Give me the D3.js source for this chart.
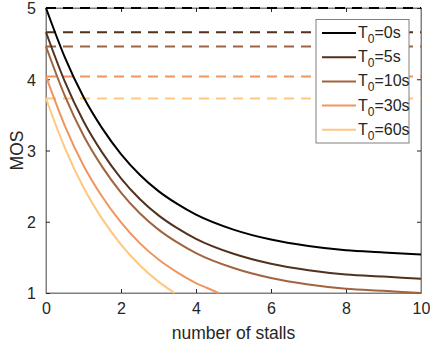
<!DOCTYPE html>
<html>
<head>
<meta charset="utf-8">
<script src="https://cdn.jsdelivr.net/npm/d3@7"></script>
<style>
  body { margin: 0; background: #fff; }
  svg { display: block; font-family: "Liberation Sans", Arial, sans-serif; }
</style>
</head>
<body>
<div id="chart"></div>
<script>
// values
var labels = ['0s', '5s', '10s', '30s', '60s'];
var colors = ['#000000', '#50321f', '#a0643f', '#ef955f', '#ffc77f'];

var stalls = [0, 0.5, 1, 1.5, 2, 2.5, 3, 3.5, 4, 5, 6, 7, 8, 9, 10];
var mosT0 = [5.00, 4.31, 3.75, 3.31, 2.95, 2.66, 2.43, 2.25, 2.10, 1.89, 1.75, 1.66, 1.60, 1.57, 1.54];
var mosT5 = [4.66, 3.97, 3.41, 2.97, 2.61, 2.32, 2.09, 1.91, 1.76, 1.55, 1.41, 1.32, 1.26, 1.23, 1.20];
var mosT10 = [4.46, 3.77, 3.21, 2.77, 2.41, 2.12, 1.89, 1.71, 1.56, 1.35, 1.21, 1.12, 1.06, 1.03, 1.00];
var stallsT30 = [0, 0.5, 1, 1.5, 2, 2.5, 3, 3.5, 4, 4.3, 4.6];
var mosT30 = [4.04, 3.35, 2.79, 2.35, 1.99, 1.70, 1.47, 1.29, 1.14, 1.07, 1.00];
var stallsT60 = [0, 0.5, 1, 1.5, 2, 2.5, 3, 3.43];
var mosT60 = [3.73, 3.04, 2.48, 2.04, 1.68, 1.39, 1.16, 1.00];

var xTicks = [0, 2, 4, 6, 8, 10];
var yTicks = [1, 2, 3, 4, 5];

var series = [
    {x: stalls, y: mosT0},
    {x: stalls, y: mosT5},
    {x: stalls, y: mosT10},
    {x: stallsT30, y: mosT30},
    {x: stallsT60, y: mosT60}
].map(function (s, i) {
    return {
        label: labels[i],
        color: colors[i],
        start: s.y[0],
        points: s.x.map(function (v, j) { return {n: v, mos: s.y[j]}; })
    };
});

var width = 430, height = 346;
var margin = {left: 46, right: 9, top: 8, bottom: 53};
var w = width - margin.left - margin.right;
var h = height - margin.top - margin.bottom;

var x = d3.scaleLinear().domain([0, 10]).range([0, w]);
var y = d3.scaleLinear().domain([1, 5]).range([h, 0]);

var svg = d3.select('#chart').append('svg')
    .attr('width', width)
    .attr('height', height);

var g = svg.append('g').attr('transform', 'translate(' + margin.left + ',' + margin.top + ')');

var axisColor = '#808080';
var textColor = '#262626';

// box
g.append('rect')
    .attr('x', 0).attr('y', 0).attr('width', w).attr('height', h)
    .attr('fill', 'none').attr('stroke', axisColor).attr('stroke-width', 1);

var xAxis = g.append('g').attr('transform', 'translate(0,' + h + ')')
    .call(d3.axisBottom(x).tickValues(xTicks).tickSizeInner(-4).tickSizeOuter(0).tickPadding(10));
var xTop = g.append('g')
    .call(d3.axisTop(x).tickValues(xTicks).tickSizeInner(-4).tickSizeOuter(0).tickFormat(''));
var yAxis = g.append('g')
    .call(d3.axisLeft(y).tickValues(yTicks).tickFormat(d3.format('d')).tickSizeInner(-4).tickSizeOuter(0).tickPadding(10));
var yRight = g.append('g').attr('transform', 'translate(' + w + ',0)')
    .call(d3.axisRight(y).tickValues(yTicks).tickSizeInner(-4).tickSizeOuter(0).tickFormat(''));

[xAxis, xTop, yAxis, yRight].forEach(function (a) {
    a.selectAll('.domain').attr('stroke', axisColor);
    a.selectAll('.tick line').attr('stroke', '#262626');
    a.selectAll('.tick text').attr('fill', textColor).style('font-size', '16px');
});
yAxis.selectAll('.tick text').attr('dy', '0.36em');

// labels
g.append('text')
    .attr('x', w / 2).attr('y', h + 46)
    .attr('text-anchor', 'middle')
    .attr('fill', textColor)
    .style('font-size', '17.5px')
    .text('number of stalls');
g.append('text')
    .attr('transform', 'translate(' + (-23) + ',' + (h / 2) + ') rotate(-90)')
    .attr('text-anchor', 'middle')
    .attr('fill', textColor)
    .style('font-size', '17.5px')
    .text('MOS');

// dashed reference levels
g.selectAll('.level').data(series).enter().append('line')
    .attr('class', 'level')
    .attr('x1', x(0)).attr('x2', x(10))
    .attr('y1', function (d) { return y(d.start); })
    .attr('y2', function (d) { return y(d.start); })
    .attr('stroke', function (d) { return d.color; })
    .attr('stroke-width', 2)
    .attr('stroke-dasharray', '10,7');

var line = d3.line()
    .x(function (d) { return x(d.n); })
    .y(function (d) { return y(d.mos); })
    .curve(d3.curveMonotoneX);

g.selectAll('.curve').data(series).enter().append('path')
    .attr('class', 'curve')
    .attr('d', function (d) { return line(d.points); })
    .attr('fill', 'none')
    .attr('stroke', function (d) { return d.color; })
    .attr('stroke-width', 2);

// legend
var legend = svg.append('g').attr('transform', 'translate(316,19.5)');
legend.append('rect')
    .attr('width', 93).attr('height', 123.5)
    .attr('fill', '#fff').attr('stroke', axisColor).attr('stroke-width', 1);

var item = legend.selectAll('.item').data(series).enter().append('g')
    .attr('class', 'item')
    .attr('transform', function (d, i) { return 'translate(0,' + (13.5 + i * 24.2) + ')'; });
item.append('line')
    .attr('x1', 6).attr('x2', 40)
    .attr('stroke', function (d) { return d.color; })
    .attr('stroke-width', 2);
var label = item.append('text')
    .attr('x', 42).attr('y', 5)
    .attr('fill', textColor)
    .style('font-size', '16px');
label.append('tspan').text('T');
label.append('tspan').attr('dy', 5).style('font-size', '12px').text('0');
label.append('tspan').attr('dy', -5).text(function (d) { return '=' + d.label; });
</script>
</body>
</html>
